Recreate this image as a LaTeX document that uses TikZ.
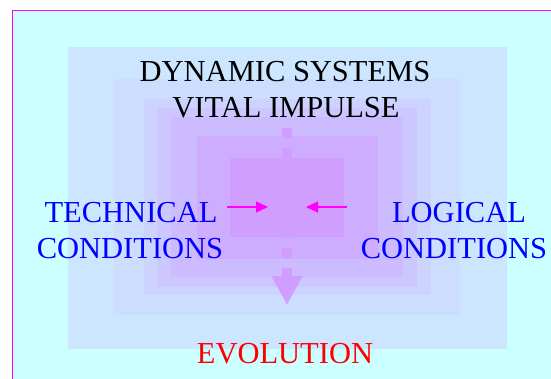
\documentclass[tikz,border=0pt]{standalone}
\usepackage{fontspec}
\setmainfont{Liberation Serif}
\usetikzlibrary{arrows.meta}
\definecolor{sky}{RGB}{204,255,255}
\definecolor{shadea}{RGB}{204,230,255}
\definecolor{shadeb}{RGB}{204,221,255}
\definecolor{shadec}{RGB}{204,211,255}
\definecolor{shaded}{RGB}{204,200,255}
\definecolor{shadee}{RGB}{204,187,255}
\definecolor{shadef}{RGB}{206,172,255}
\definecolor{shadeg}{RGB}{208,158,255}
\definecolor{flow}{RGB}{208,158,255}
\definecolor{pink}{RGB}{255,0,255}
\begin{document}
\begin{tikzpicture}[x=1pt,y=-1pt,
    word/.style={font=\fontsize{30.5}{36}\selectfont, anchor=base, inner sep=0pt},
    push/.style={pink, line width=1.4pt, -{Triangle[length=12pt,width=11pt]}},
    impulse/.style={flow, line width=10pt, dash pattern=on 10pt off 10pt,
        -{Triangle[length=29pt,width=29pt]}}]
    \useasboundingbox (0,0) rectangle (551,378);
    \clip (0,0) rectangle (551,378);
    \draw[pink, line width=1.3pt, fill=sky] (12.8,10.5) rectangle (600,420);
    \foreach \xa/\ya/\xb/\yb/\c in {68/47/507/349/shadea, 114/79/460/315/shadeb,
        144/99/431/295/shadec, 157/108/417/287/shaded, 171/117/403/277/shadee,
        197/136/378/259/shadef, 230/158/344/237/shadeg}
      \fill[\c] (\xa,\ya) rectangle (\xb,\yb);
    \coordinate (start) at (287,128);
    \coordinate (goal) at (287,305);
    \draw[impulse] (start) -- (goal);
    \node[word] (dynamic) at (285,81) {DYNAMIC SYSTEMS};
    \node[word] (vital) at (286,117) {VITAL IMPULSE};
    \node[word, blue] (technical) at (131,222) {TECHNICAL};
    \node[word, blue] (techcond) at (130,258) {CONDITIONS};
    \node[word, blue] (logical) at (459,222) {LOGICAL};
    \node[word, blue] (logcond) at (454,258) {CONDITIONS};
    \node[word, red] (evolution) at (285,363) {EVOLUTION};
    \coordinate (left from) at (227,207);
    \coordinate (left to) at (268,207);
    \coordinate (right from) at (347,207);
    \coordinate (right to) at (306,207);
    \draw[push] (left from) -- (left to);
    \draw[push] (right from) -- (right to);
\end{tikzpicture}
\end{document}
